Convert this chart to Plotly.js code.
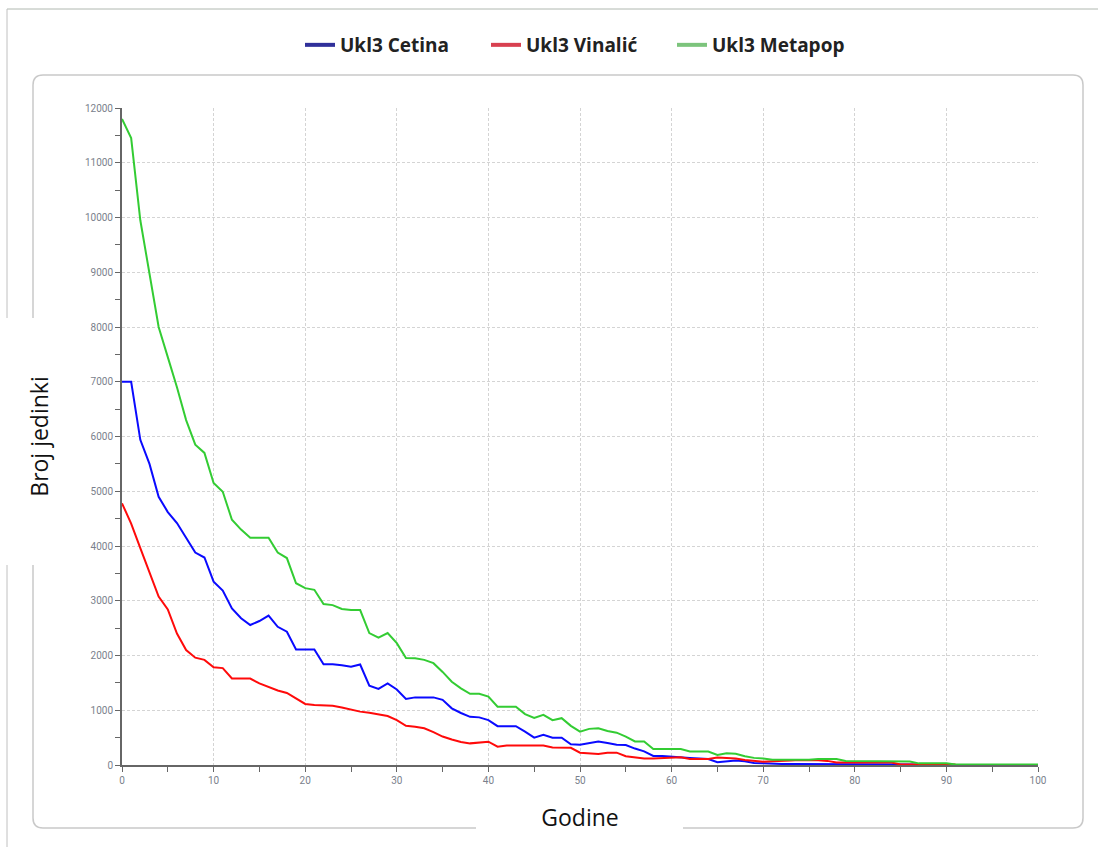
<!DOCTYPE html>
<html>
<head>
<meta charset="utf-8">
<script src="https://cdn.plot.ly/plotly-3.0.1.min.js"></script>
<style>html,body{margin:0;padding:0;background:#fff;}#chart{width:1098px;height:847px;}</style>
</head>
<body>
<div id="chart"></div>
<script>
// ---- data ----
const seriesNames = ["Ukl3 Cetina", "Ukl3 Vinalić", "Ukl3 Metapop"];

const cetinaYears = [0,1,2,3,4,5,6,7,8,9,10,11,12,13,14,15,16,17,18,19,20,21,22,23,24,25,26,27,28,29,30,31,32,33,34,35,36,37,38,39,40,41,42,43,44,45,46,47,48,49,50,51,52,53,54,55,56,57,58,59,60,61,62,63,64,65,66,67,68,69,70,71,72,73,74,75,76,77,78,79,80,81,82,83,84,85,86,87,88,89];
const cetinaValues = [7000,7000,5940,5500,4900,4620,4420,4150,3880,3790,3350,3185,2860,2680,2557,2630,2730,2525,2435,2110,2110,2110,1840,1840,1820,1795,1835,1450,1390,1490,1380,1205,1235,1235,1235,1190,1035,950,880,870,820,710,710,710,610,500,550,500,500,380,370,400,430,400,370,365,300,250,165,165,150,140,130,120,110,50,60,80,70,35,30,20,20,20,20,20,20,20,20,20,20,20,20,20,20,10,10,10,10,5];

const vinalicYears = [0,1,2,3,4,5,6,7,8,9,10,11,12,13,14,15,16,17,18,19,20,21,22,23,24,25,26,27,28,29,30,31,32,33,34,35,36,37,38,39,40,41,42,43,44,45,46,47,48,49,50,51,52,53,54,55,56,57,58,59,60,61,62,63,64,65,66,67,68,69,70,71,72,73,74,75,76,77,78,79,80,81,82,83,84,85,86,87,88,89,90,91];
const vinalicValues = [4780,4410,3960,3500,3075,2840,2400,2100,1960,1920,1785,1770,1580,1580,1580,1490,1420,1360,1315,1220,1115,1095,1090,1080,1050,1010,975,955,930,895,820,715,700,670,600,520,465,420,395,410,425,335,355,355,355,355,355,320,320,315,225,210,200,225,225,160,135,120,120,130,140,140,110,110,110,135,130,120,90,80,60,70,70,80,90,90,85,75,45,45,45,45,45,45,45,10,10,10,10,10,10,10];

const metapopYears = [0,1,2,3,4,5,6,7,8,9,10,11,12,13,14,15,16,17,18,19,20,21,22,23,24,25,26,27,28,29,30,31,32,33,34,35,36,37,38,39,40,41,42,43,44,45,46,47,48,49,50,51,52,53,54,55,56,57,58,59,60,61,62,63,64,65,66,67,68,69,70,71,72,73,74,75,76,77,78,79,80,81,82,83,84,85,86,87,88,89,90,91,92,93,94,95,96,97,98,99,100];
const metapopValues = [11800,11450,9950,8950,8000,7450,6900,6300,5850,5700,5150,4990,4480,4300,4150,4150,4150,3880,3780,3320,3230,3200,2940,2920,2850,2830,2830,2410,2325,2410,2225,1955,1950,1920,1860,1700,1520,1400,1300,1300,1250,1065,1065,1065,930,860,915,820,855,715,610,660,670,620,590,520,430,430,290,290,290,290,245,245,245,185,215,205,160,130,120,95,95,95,95,95,110,110,110,75,75,75,75,75,70,65,65,30,30,30,30,10,10,10,10,10,10,10,10,10,10];

const xTickVals = [0,10,20,30,40,50,60,70,80,90,100];
const yTickVals = [0,1000,2000,3000,4000,5000,6000,7000,8000,9000,10000,11000,12000];
const xTitle = "Godine";
const yTitle = "Broj jedinki";

// ---- layout helpers (pixel -> paper) ----
const L = 122, R = 1038, T = 108, B = 765;
const W = R - L, H = B - T;
const fx = p => (p - L) / W;
const fy = p => (B - p) / H;
function pathPx(cmds) {
  return cmds.map(c => {
    if (c[0] === 'Q') return 'Q' + fx(c[1]) + ',' + fy(c[2]) + ' ' + fx(c[3]) + ',' + fy(c[4]);
    return c[0] + fx(c[1]) + ',' + fy(c[2]);
  }).join(' ');
}
const frameColor = '#c9c9c9';
const shapes = [
  {type:'path', xref:'paper', yref:'paper', line:{color:frameColor, width:1.5},
   path: pathPx([['M',683,828],['L',1073,828],['Q',1083,828,1083,818],['L',1083,85],['Q',1083,75,1073,75],['L',43,75],['Q',33,75,33,85],['L',33,318]])},
  {type:'path', xref:'paper', yref:'paper', line:{color:frameColor, width:1.5},
   path: pathPx([['M',33,565],['L',33,818],['Q',33,828,43,828],['L',476,828]])},
  {type:'line', xref:'paper', yref:'paper', x0:fx(7), x1:fx(1098), y0:fy(9), y1:fy(9), line:{color:'#b0b8b0', width:1}},
  {type:'line', xref:'paper', yref:'paper', x0:fx(7), x1:fx(7), y0:fy(9), y1:fy(318), line:{color:'#c0c0c0', width:1}},
  {type:'line', xref:'paper', yref:'paper', x0:fx(7), x1:fx(7), y0:fy(565), y1:fy(847), line:{color:'#c0c0c0', width:1}}
];

const lineColors = ['#0a0aff', '#ff0a0a', '#33cc33'];
const legendColors = ['#30309a', '#d84050', '#7cc47c'];
const traces = [
  {x: cetinaYears, y: cetinaValues, name: seriesNames[0], type:'scatter', mode:'lines', line:{color:lineColors[0], width:2}, showlegend:false},
  {x: vinalicYears, y: vinalicValues, name: seriesNames[1], type:'scatter', mode:'lines', line:{color:lineColors[1], width:2}, showlegend:false},
  {x: metapopYears, y: metapopValues, name: seriesNames[2], type:'scatter', mode:'lines', line:{color:lineColors[2], width:2}, showlegend:false}
];
seriesNames.forEach((n, i) => {
  traces.push({x:[null], y:[null], name:n, type:'scatter', mode:'lines', line:{color:legendColors[i], width:4}, showlegend:true, hoverinfo:'skip'});
});

const tickFont = {family:'Roboto, sans-serif', size:10, color:'#7a7f8c'};
const layout = {
  width:1098, height:847,
  margin:{l:L, r:1098-R, t:T, b:847-B},
  paper_bgcolor:'#fff', plot_bgcolor:'#fff',
  showlegend:true,
  legend:{orientation:'h', x:fx(300), xanchor:'left', y:fy(45), yanchor:'middle',
          font:{family:'Open Sans, sans-serif', size:19, color:'#222', weight:'bold'},
          entrywidth:141, entrywidthmode:'pixels', tracegroupgap:0, bgcolor:'rgba(0,0,0,0)'},
  xaxis:{range:[0,100], tickvals:xTickVals, ticktext:xTickVals.map(String), tickfont:tickFont,
         showline:true, linecolor:'#666', linewidth:2, ticks:'outside', ticklen:5, tickcolor:'#666', tickwidth:1,
         minor:{dtick:5, ticks:'outside', ticklen:5, tickcolor:'#666', showgrid:false},
         showgrid:true, gridcolor:'#d4d4d4', griddash:'3px,2px', gridwidth:1, zeroline:false,
         title:{text:xTitle, font:{family:'Open Sans, sans-serif', size:23, color:'#111'}, standoff:25}},
  yaxis:{range:[0,12000], tickvals:yTickVals, ticktext:yTickVals.map(String), tickfont:tickFont,
         showline:true, linecolor:'#666', linewidth:2, ticks:'outside', ticklen:5, tickcolor:'#666', tickwidth:1,
         minor:{dtick:500, ticks:'outside', ticklen:5, tickcolor:'#666', showgrid:false},
         showgrid:true, gridcolor:'#d4d4d4', griddash:'3px,2px', gridwidth:1, zeroline:false,
         title:{text:yTitle, font:{family:'Open Sans, sans-serif', size:23, color:'#111'}, standoff:30}},
  shapes: shapes
};
Plotly.newPlot('chart', traces, layout, {displayModeBar:false, staticPlot:true});
</script>
</body>
</html>
